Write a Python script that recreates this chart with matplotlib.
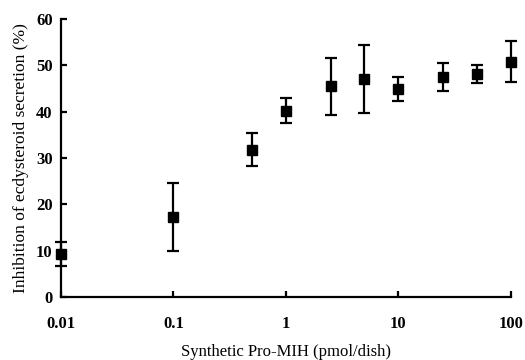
import matplotlib.pyplot as plt

dose = [0.01, 0.1, 0.5, 1, 2.5, 5, 10, 25, 50, 100]
inhibition = [9.3, 17.3, 31.8, 40.2, 45.5, 47.0, 44.9, 47.5, 48.1, 50.8]
sem = [2.6, 7.3, 3.6, 2.7, 6.2, 7.3, 2.6, 3.0, 1.9, 4.4]

plt.rcParams["font.family"] = ["Liberation Serif", "DejaVu Serif"]

fig = plt.figure(figsize=(5.25, 3.6), dpi=100)
ax = fig.add_axes([0.116, 0.175, 0.857, 0.772])

ax.errorbar(dose, inhibition, yerr=sem, fmt="s", color="black", markersize=7.5,
            ecolor="black", elinewidth=1.6, capsize=4.5, capthick=1.6, clip_on=False)

ax.set_xscale("log")
ax.set_xlim(0.01, 100)
ax.set_ylim(0, 60)
ax.set_xticks([0.01, 0.1, 1, 10, 100])
ax.set_xticklabels(["0.01", "0.1", "1", "10", "100"])
ax.set_yticks([0, 10, 20, 30, 40, 50, 60])
ax.minorticks_off()

for side in ["top", "right"]:
    ax.spines[side].set_visible(False)
for side in ["left", "bottom"]:
    ax.spines[side].set_linewidth(1.6)

ax.tick_params(axis="x", direction="in", length=4, width=1.6, labelsize=12, pad=14)
ax.tick_params(axis="y", direction="in", length=4, width=1.6, labelsize=12, pad=6)
for lbl in ax.get_xticklabels() + ax.get_yticklabels():
    lbl.set_fontweight("bold")

ax.set_xlabel("Synthetic Pro-MIH (pmol/dish)", fontsize=12, labelpad=8)
ax.set_ylabel("Inhibition of ecdysteroid secretion (%)", fontsize=12.5, labelpad=5)

plt.savefig("out.png", dpi=100)
